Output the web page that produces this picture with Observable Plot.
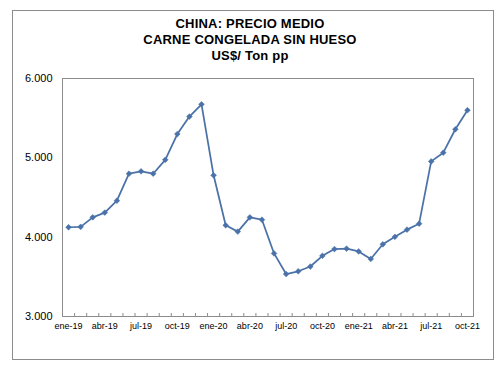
<!DOCTYPE html>
<html>
<head>
<meta charset="utf-8">
<script src="https://cdn.jsdelivr.net/npm/d3@7"></script>
<script src="https://cdn.jsdelivr.net/npm/@observablehq/plot@0.6"></script>
<style>
  html, body { margin: 0; padding: 0; background: #fff; }
  #wrap { position: relative; width: 503px; height: 367px; font-family: Arial, "Liberation Sans", sans-serif; }
  #border { position: absolute; left: 12px; top: 10px; width: 480px; height: 348px; border: 1px solid #8c8c8c; pointer-events: none; }
  #title { position: absolute; left: 0; width: 500px; top: 16px; text-align: center; font-weight: bold; font-size: 13px; line-height: 16px; color: #000; letter-spacing: 0.2px; }
  #chart { position: absolute; left: 0; top: 0; }
</style>
</head>
<body>
<div id="wrap">
  <div id="chart"></div>
  <div id="border"></div>
  <div id="title">CHINA: PRECIO MEDIO<br>CARNE CONGELADA SIN HUESO<br>US$/ Ton pp</div>
</div>
<script>
const months = ["ene-19","feb-19","mar-19","abr-19","may-19","jun-19","jul-19","ago-19","sep-19","oct-19","nov-19","dic-19",
  "ene-20","feb-20","mar-20","abr-20","may-20","jun-20","jul-20","ago-20","sep-20","oct-20","nov-20","dic-20",
  "ene-21","feb-21","mar-21","abr-21","may-21","jun-21","jul-21","ago-21","sep-21","oct-21"];
const prices = [4125, 4130, 4250, 4310, 4460, 4800, 4830, 4800, 4975, 5300, 5520, 5675,
  4780, 4150, 4070, 4250, 4220, 3795, 3535, 3570, 3630, 3765, 3850, 3855,
  3820, 3725, 3910, 4005, 4095, 4170, 4955, 5065, 5360, 5600];
const tickLabels = ["ene-19","abr-19","jul-19","oct-19","ene-20","abr-20","jul-20","oct-20","ene-21","abr-21","jul-21","oct-21"];
const yTicks = [3000, 4000, 5000, 6000];

const data = months.map((m, i) => ({i, month: m, price: prices[i]}));
const labelIdx = tickLabels.map(l => months.indexOf(l));
const boundaries = d3.range(months.length + 1).map(i => i - 0.5);
const fmt = v => d3.format(",.0f")(v).replace(/,/g, ".") ;

const chart = Plot.plot({
  width: 503,
  height: 367,
  marginLeft: 62,
  marginRight: 30,
  marginTop: 78,
  marginBottom: 51,
  style: {fontFamily: "Arial, 'Liberation Sans', sans-serif", color: "#000", background: "transparent", overflow: "visible"},
  x: {type: "linear", domain: [-0.5, months.length - 0.5]},
  y: {domain: [3000, 6000]},
  marks: [
    Plot.frame({stroke: "#8c8c8c"}),
    Plot.axisY({ticks: yTicks, tickFormat: fmt, tickSize: 0, tickPadding: 10, fontSize: 11, label: null}),
    Plot.axisX({ticks: boundaries, tickFormat: () => "", tickSize: -3, stroke: "#8c8c8c", label: null}),
    Plot.axisX({ticks: labelIdx, tickFormat: i => months[i], tickSize: 0, tickPadding: 6, fontSize: 9, label: null}),
    Plot.line(data, {x: "i", y: "price", stroke: "#4a72a8", strokeWidth: 1.75}),
    Plot.dot(data, {x: "i", y: "price", symbol: "diamond2", r: 2.6, fill: "#4a72a8", stroke: "#4a72a8", strokeWidth: 0.5})
  ]
});
document.getElementById("chart").appendChild(chart);
</script>
</body>
</html>
